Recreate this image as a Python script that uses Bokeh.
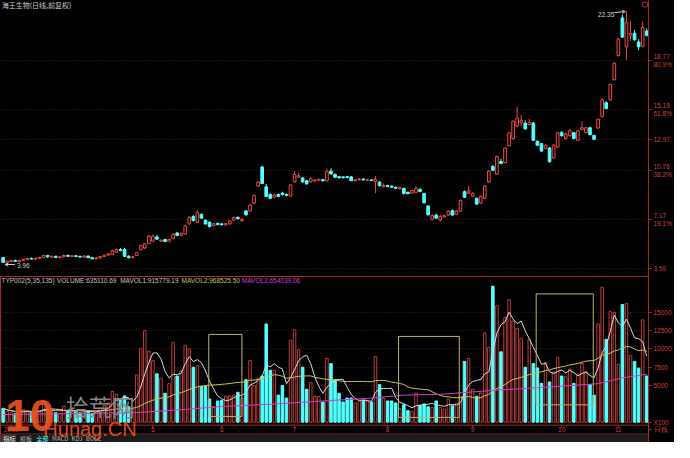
import pandas as pd
from bokeh.plotting import figure
from bokeh.layouts import column
from bokeh.models import Range1d, FixedTicker, Label, Arrow, OpenHead, ColumnDataSource
from bokeh.embed import file_html
from bokeh.resources import INLINE
from bokeh.core.properties import value

# ---------------- data ----------------
title_text = "海王生物(日线,前复权)"

opens = [4.40,4.02,4.12,4.20,4.12,4.18,4.26,4.34,4.30,4.34,
         4.40,4.56,4.44,4.50,4.42,4.46,4.56,4.48,4.54,4.48,
         4.44,4.52,4.40,4.32,4.38,4.48,4.58,4.62,4.80,5.00,
         5.00,4.50,4.40,4.56,4.98,5.10,5.42,5.60,5.90,5.60,
         5.72,5.60,5.78,6.20,6.02,6.12,6.86,7.40,6.98,7.55,
         7.12,6.98,6.74,6.90,6.86,6.78,6.86,7.14,7.34,7.10,
         7.80,7.80,8.36,9.62,11.00,9.56,9.00,8.80,9.00,9.10,
         9.00,8.88,9.92,10.24,10.20,10.00,9.92,10.00,10.04,10.08,
         10.00,10.70,10.46,10.30,10.28,10.30,10.28,10.00,10.08,10.12,
         10.02,10.06,9.92,9.90,9.56,9.66,9.60,9.52,9.42,9.44,
         9.16,9.10,9.16,9.38,9.07,8.16,7.20,7.50,7.14,7.36,
         7.50,7.82,7.56,7.80,9.20,9.10,8.88,8.72,8.38,8.72,
         9.92,11.04,10.48,11.40,11.32,12.56,13.08,13.99,14.26,14.20,
         14.10,14.20,12.87,12.70,12.36,12.38,11.67,12.45,13.50,13.08,
         13.29,13.50,12.94,13.74,13.50,13.86,13.29,13.84,14.69,15.68,
         15.89,17.36,19.12,21.86,19.75,20.60,20.74,20.10,19.82,20.90]
highs = [4.45,4.20,4.24,4.26,4.24,4.32,4.40,4.42,4.40,4.46,
         4.62,4.60,4.56,4.54,4.50,4.62,4.62,4.58,4.60,4.56,
         4.56,4.56,4.46,4.42,4.52,4.62,4.72,4.98,5.06,5.10,
         5.12,4.58,4.52,4.80,5.32,5.45,6.05,6.10,6.05,5.76,
         5.78,5.80,6.18,6.26,6.24,6.80,7.42,7.50,7.85,7.62,
         7.18,7.04,6.92,6.94,6.92,6.94,7.12,7.40,7.40,7.30,
         7.88,8.30,9.00,9.96,11.10,9.77,9.10,9.04,9.08,9.20,
         9.08,9.72,10.70,10.60,10.28,10.06,10.26,10.10,10.14,10.14,
         10.90,10.92,10.54,10.34,10.32,10.36,10.34,10.12,10.20,10.18,
         10.14,10.10,10.34,9.98,9.80,9.70,9.66,9.60,9.56,9.50,
         9.20,9.32,9.62,9.44,9.12,8.22,7.56,7.60,7.50,7.52,
         7.86,7.90,7.86,8.64,9.30,9.62,9.16,8.78,8.92,9.70,
         10.76,11.14,11.84,11.60,12.44,13.56,14.40,15.40,14.80,14.40,
         14.50,14.28,12.94,12.76,12.66,12.46,12.66,13.56,13.62,13.50,
         13.80,13.56,13.70,14.34,13.90,13.94,13.36,14.52,16.00,15.80,
         17.08,18.62,20.40,22.10,22.35,21.60,21.00,20.30,21.60,21.10]
lows = [4.02,3.96,4.08,4.10,4.06,4.14,4.22,4.26,4.24,4.30,
        4.36,4.40,4.40,4.38,4.36,4.42,4.46,4.44,4.44,4.40,
        4.40,4.36,4.28,4.26,4.34,4.44,4.52,4.58,4.74,4.86,
        4.45,4.34,4.36,4.52,4.94,5.05,5.40,5.55,5.68,5.56,
        5.52,5.56,5.74,5.96,5.98,6.08,6.80,7.02,6.92,7.22,
        6.80,6.60,6.70,6.76,6.74,6.74,6.80,7.08,7.18,7.02,
        7.45,7.74,8.30,9.55,9.74,8.84,8.66,8.72,8.80,8.92,
        8.86,8.84,9.86,10.20,9.86,9.70,9.86,9.92,9.96,9.94,
        9.96,10.44,10.20,10.16,10.16,10.18,9.98,9.96,10.00,10.02,
        9.98,9.96,9.10,9.58,9.52,9.52,9.48,9.40,9.36,9.00,
        9.00,9.06,9.10,9.16,8.34,7.46,7.10,7.22,7.04,7.30,
        7.44,7.46,7.50,7.74,8.74,9.04,8.80,8.26,8.30,8.66,
        9.86,10.70,10.44,11.20,11.26,12.50,13.00,13.90,13.98,13.72,
        14.00,12.90,12.52,12.10,12.30,11.30,11.60,12.40,13.20,13.00,
        13.20,13.02,12.90,13.70,13.44,13.30,12.96,13.78,14.62,15.20,
        15.82,17.30,19.04,20.40,18.80,20.20,20.20,19.50,19.70,20.50]
closes = [4.06,4.14,4.20,4.13,4.18,4.28,4.34,4.30,4.36,4.40,
          4.56,4.46,4.50,4.42,4.46,4.56,4.50,4.54,4.48,4.44,
          4.52,4.40,4.32,4.38,4.48,4.58,4.68,4.90,4.98,4.92,
          4.50,4.40,4.46,4.76,5.28,5.40,5.98,5.95,5.75,5.66,
          5.58,5.72,6.10,6.02,6.16,6.72,7.34,7.12,7.67,7.28,
          6.86,6.66,6.86,6.80,6.80,6.88,7.06,7.32,7.24,7.20,
          7.52,8.22,8.92,9.90,9.80,8.86,8.72,8.96,8.86,9.00,
          8.94,9.70,10.46,10.36,9.92,9.78,10.14,10.04,10.10,10.00,
          10.66,10.50,10.26,10.22,10.22,10.24,10.00,10.08,10.14,10.06,
          10.08,10.02,10.10,9.64,9.66,9.58,9.52,9.46,9.50,9.08,
          9.06,9.28,9.44,9.22,8.40,7.52,7.46,7.28,7.40,7.46,
          7.78,7.50,7.80,8.56,8.80,9.26,9.08,8.30,8.86,9.62,
          10.70,10.76,11.76,11.26,12.38,13.50,14.34,14.55,14.40,13.78,
          14.24,12.94,12.59,12.16,12.56,11.39,12.59,13.50,13.29,13.40,
          13.64,13.08,13.64,13.86,13.86,13.36,13.02,14.48,15.89,15.26,
          17.01,18.56,20.32,20.46,21.51,20.72,20.26,19.75,21.16,20.60]
# volume in units of 100 shares
volumes = [1900,1500,1300,1200,1400,1700,1600,1300,1500,1400,
           2800,1900,1500,1300,1200,2200,1600,1400,1500,1300,
           1700,1500,1200,1400,1900,2300,2600,4200,3800,3000,
           3600,2100,1800,6450,10100,12500,9700,8400,6600,6000,
           3950,5260,10900,6300,7000,10500,10000,7500,7700,4870,
           4870,3160,2100,2900,3000,3550,3600,3700,4080,3300,
           5800,8400,5000,6000,6300,13400,7100,7100,3700,5000,
           3300,11200,12600,9900,7500,4500,5400,3550,3500,2760,
           8700,8000,5800,3950,2760,3300,3300,2630,2900,3000,
           2900,2760,8950,5130,3300,2900,2900,2630,1840,2370,
           1580,1450,3950,2300,2500,2100,2000,2900,2000,1800,
           3160,2240,2600,3550,8300,8700,4500,3550,4000,12200,
           10200,18550,15900,9600,14300,16700,13800,12800,11450,7500,
           11300,8000,7400,5300,8160,5500,6840,8800,6300,6200,
           7240,5300,6580,8000,6900,5130,3680,13400,18400,11300,
           15100,15000,7900,16050,16200,9080,8300,7370,13950,6300]
# MAVOL3 (135-day) line (its history precedes the window)
mavol3_idx = [0, 15, 33, 45, 54, 66, 79, 90, 99, 108, 121, 137, 147, 153, 159]
mavol3_val = [1050, 1150, 1320, 1750, 2150, 2450, 2900, 3250, 3700, 3800, 4340, 4870, 5260, 6050, 6540]

# boxes drawn by the TYP002 indicator (bar-index span, volume span)
box_left = [50.8, 97.7, 131.7]
box_right = [59.0, 112.7, 145.8]
box_top = [11975, 11700, 17500]
box_bottom = [790, 660, 2370]

price_ticks = [3.59, 7.17, 10.76, 12.97, 15.18, 18.77]
price_labels = ["3.59", "7.17\n19.1%", "10.76\n38.2%", "12.97", "15.18\n61.8%", "18.77\n80.9%"]
vol_ticks = [0, 5000, 7500, 10000, 12500, 15000]
vol_labels = ["X100", "5000", "7500", "10000", "12500", "15000"]
period_label = "日线"
month_ticks = [2, 37, 54, 72, 95, 116, 138, 152]
month_labels = ["2009", "5", "6", "7", "8", "9", "10", "11"]

header_texts = ["TYP002(5,35,135)", "VOLUME:635110.69", "MAVOL1:915779.19",
                "MAVOL2:968525.50", "MAVOL3:654039.06"]
tab_texts = ["指标", "模板", "全部", "MACD", "KDJ", "BOLL"]
high_mark, low_mark = "22.35", "3.96"

# ---------------- layout / style ----------------
W, H = 674, 442
SX, SY = W / 690, H / 458
TOP_H = round(286 * SY)
BOT_H = H - TOP_H
RB = 25
BG = "black"
RED_LINE = "#a52a2a"
RED_TXT = "#d04040"
UP = "#ee4848"
UPV = "#b83c3c"
DN = "#54ffff"
GRID = "#4a1616"
VPX = 131.6          # volume units per reference pixel (layout calibration)

def vy(ref_y):
    """volume-axis value at a reference pixel row (layout helper)"""
    return (437 - ref_y) * VPX

def xi(ref_x):
    """bar-index coordinate at a reference pixel column (layout helper)"""
    return (ref_x - 2.7) / 4.16

x_range = Range1d(xi(0), xi(666))

def base_fig(height, y_range, outline):
    f = figure(width=W, height=height, x_range=x_range, y_range=y_range,
               output_backend="svg", toolbar_location=None,
               background_fill_color=BG, border_fill_color=BG,
               min_border_left=0, min_border_right=RB, min_border_top=0,
               min_border_bottom=0, y_axis_location="right", x_axis_location=None,
               outline_line_color=outline)
    f.xgrid.visible = False
    ax = f.yaxis[0]
    ax.axis_line_color = RED_LINE
    ax.major_tick_line_color = RED_LINE
    ax.major_tick_out = 3
    ax.major_tick_in = 0
    ax.minor_tick_line_color = None
    ax.major_label_standoff = 2
    ax.major_label_text_color = RED_TXT
    ax.major_label_text_font = "Liberation Sans"
    ax.major_label_text_font_size = "6.5px"
    f.ygrid.grid_line_color = GRID
    f.ygrid.grid_line_dash = "1 2"
    return f

# ---------------- price panel ----------------
p1 = base_fig(TOP_H, Range1d(3.028, 23.126), None)
p1.yaxis.ticker = FixedTicker(ticks=price_ticks)
p1.yaxis.major_label_overrides = dict(zip(price_ticks, price_labels))
p1.ygrid.ticker = FixedTicker(ticks=price_ticks)

idx = list(range(len(closes)))
is_up = [c >= o for o, c in zip(opens, closes)]
csrc = ColumnDataSource(dict(
    x=idx, h=highs, l=lows,
    top=[max(o, c) for o, c in zip(opens, closes)],
    bottom=[min(o, c) for o, c in zip(opens, closes)],
    edge=[UP if u else DN for u in is_up],
    fill=[BG if u else DN for u in is_up],
))
p1.segment(x0="x", y0="h", x1="x", y1="l", line_color="edge", line_width=1, source=csrc)
p1.vbar(x="x", top="top", bottom="bottom", width=0.66, fill_color="fill",
        line_color="edge", line_width=1, source=csrc)

p1.text(x=[-0.35], y=[22.78], text=[title_text], text_font=value("Noto Sans CJK SC"),
        text_font_size="7px", text_color="#c8c8c8", text_align="left", text_baseline="middle")

imax = highs.index(max(highs))
imin = lows.index(min(lows))
p1.text(x=[imax - 5.0], y=[22.14], text=[high_mark], text_font=value("Liberation Sans"),
        text_font_size="6.5px", text_color="#d0d0d0", text_align="center", text_baseline="middle")
p1.add_layout(Arrow(x_start=imax - 3.0, y_start=22.24, x_end=imax - 0.3, y_end=highs[imax] - 0.03,
                    line_color="#d0d0d0", line_width=1,
                    end=OpenHead(size=3, line_color="#d0d0d0", line_width=1)))
p1.add_layout(Arrow(x_start=imin + 1.9, y_start=3.90, x_end=imin - 0.5, y_end=3.90,
                    line_color="#d0d0d0", line_width=1,
                    end=OpenHead(size=3, line_color="#d0d0d0", line_width=1)))
p1.text(x=[imin + 2.4], y=[3.84], text=[low_mark], text_font=value("Liberation Sans"),
        text_font_size="6.5px", text_color="#d0d0d0", text_align="left", text_baseline="middle")
p1.quad(left=[158.0], right=[159.2], top=[23.0], bottom=[22.66],
        fill_alpha=0, line_color=RED_LINE, line_width=1)

# ---------------- volume panel (frame runs to the bottom edge) ----------------
p2 = base_fig(BOT_H, Range1d(vy(458), vy(286)), RED_LINE)
ticks2 = vol_ticks + [vy(444.5)]
labels2 = vol_labels + [period_label]
p2.yaxis.ticker = FixedTicker(ticks=ticks2)
p2.yaxis.major_label_overrides = dict(zip(ticks2, labels2))
p2.ygrid.ticker = FixedTicker(ticks=vol_ticks[1:])

# bottom tab strip background
p2.quad(left=[x_range.start], right=[x_range.end], top=[vy(449)], bottom=[vy(458.5)],
        fill_color="#1c1c1c", line_color=None)
p2.quad(left=[xi(1)], right=[xi(16)], top=[vy(449.5)], bottom=[vy(458)],
        fill_color="#3c3c3c", line_color=None)

vsrc = ColumnDataSource(dict(
    x=idx, v=volumes,
    edge=[UPV if u else DN for u in is_up],
    fill=[BG if u else DN for u in is_up],
))
p2.vbar(x="x", top="v", bottom=0, width=0.62, fill_color="fill", line_color="edge",
        line_width=1, source=vsrc)

vol = pd.Series(volumes, dtype=float)
ma5 = vol.rolling(5, min_periods=1).mean()
ma35 = vol.rolling(35, min_periods=1).mean()
p2.line(idx, list(ma5), line_color="#d8d8d8", line_width=1)
p2.line(idx, list(ma35), line_color="#c8c45a", line_width=1)
p2.line(mavol3_idx, mavol3_val, line_color="#d23cd2", line_width=1)

p2.quad(left=box_left, right=box_right, top=box_top, bottom=box_bottom,
        fill_alpha=0, line_color="#b8b474", line_width=1)

hdr_x = [xi(1), xi(58), xi(123), xi(186), xi(248)]
hdr_col = ["#c4c4c4", "#c4c4c4", "#c4c4c4", "#c8c45a", "#d23cd2"]
p2.text(x=hdr_x, y=[vy(290)] * 5, text=header_texts, text_color=hdr_col,
        text_font=value("Liberation Sans"), text_font_size="6.5px",
        text_align="left", text_baseline="middle")

# date axis row (line, ticks and month labels)
p2.segment(x0=[x_range.start], y0=[vy(440)], x1=[x_range.end], y1=[vy(440)],
           line_color=RED_LINE, line_width=1)
p2.segment(x0=[x_range.start], y0=[vy(449)], x1=[x_range.end], y1=[vy(449)],
           line_color="#5a1c1c", line_width=1)
p2.segment(x0=month_ticks, y0=[vy(440)] * len(month_ticks), x1=month_ticks,
           y1=[vy(442.5)] * len(month_ticks), line_color=RED_LINE, line_width=1)
p2.text(x=month_ticks, y=[vy(445)] * len(month_ticks), text=month_labels,
        text_color=RED_TXT, text_font=value("Liberation Sans"), text_font_size="6.5px",
        text_align="center", text_baseline="middle")

# watermark
p2.add_layout(Label(x=xi(5), y=vy(430), text="10", text_font="Liberation Sans",
                    text_font_style="bold", text_font_size="44px", text_color="#e8501e",
                    text_alpha=0.95, text_baseline="middle"))
p2.add_layout(Label(x=xi(67), y=vy(420), text="拾荒网", text_font="Noto Sans CJK SC",
                    text_font_size="23px", text_color="#8c8c8c", text_alpha=0.95,
                    text_baseline="middle"))
p2.add_layout(Label(x=xi(44), y=vy(444), text="Hunag.CN", text_font="Liberation Sans",
                    text_font_size="20px", text_color="#e8501e", text_alpha=0.95,
                    text_baseline="middle"))

# bottom tab row
tab_x = [xi(3), xi(20), xi(37), xi(53), xi(73), xi(88)]
tab_col = ["#e0e0e0", "#b0b0b0", "#54ffff", "#b0b0b0", "#b0b0b0", "#b0b0b0"]
p2.text(x=tab_x, y=[vy(453.7)] * len(tab_x), text=tab_texts, text_color=tab_col,
        text_font=value("Noto Sans CJK SC"), text_font_size="6px",
        text_align="left", text_baseline="middle")

layout = column(p1, p2, spacing=0, background=BG)
open("out.html", "w").write(file_html(layout, INLINE))
